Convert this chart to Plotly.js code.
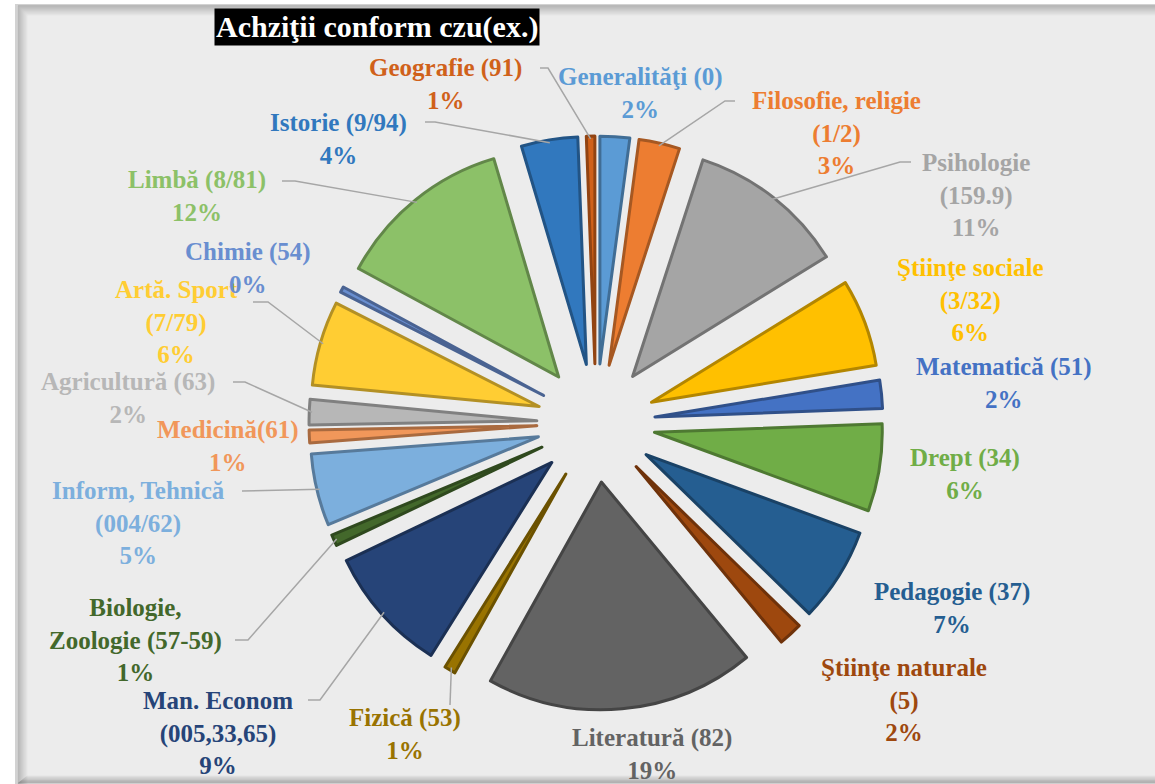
<!DOCTYPE html>
<html>
<head>
<meta charset="utf-8">
<script src="https://cdn.plot.ly/plotly-3.0.1.min.js"></script>
<style>
  html, body { margin: 0; padding: 0; background: #fff; }
  #chart { width: 1155px; height: 784px; }
</style>
</head>
<body>
<div id="chart"></div>
<script>
const W = 1155;
const H = 784;

// data, clockwise from 12 o'clock
const categories = [
  'Generalităţi (0)', 'Filosofie, religie<br>(1/2)', 'Psihologie<br>(159.9)',
  'Ştiinţe sociale<br>(3/32)', 'Matematică (51)', 'Drept (34)', 'Pedagogie (37)',
  'Ştiinţe naturale<br>(5)', 'Literatură (82)', 'Fizică (53)', 'Man. Econom<br>(005,33,65)',
  'Biologie,<br>Zoologie (57-59)', 'Inform, Tehnică<br>(004/62)', 'Medicină(61)',
  'Agricultură (63)', 'Artă. Sport<br>(7/79)', 'Chimie (54)', 'Limbă (8/81)',
  'Istorie (9/94)', 'Geografie (91)'
];
const shares = [2.1, 2.9, 11.2, 6.2, 2.0, 6.2, 6.7, 1.7, 19.1, 0.8, 9.0, 0.8, 5.1, 0.9, 1.8, 6.0, 0.4, 12.5, 4.0, 0.6];
const pctLabels = ['2%', '3%', '11%', '6%', '2%', '6%', '7%', '2%', '19%', '1%', '9%', '1%', '5%', '1%', '2%', '6%', '0%', '12%', '4%', '1%'];

const colors = [
  '#5B9BD5', '#ED7D31', '#A5A5A5', '#FFC000', '#4472C4', '#70AD47', '#255E91',
  '#9E480E', '#636363', '#997300', '#264478', '#43682B', '#7CAFDD', '#F1975A',
  '#B7B7B7', '#FFCD33', '#698ED0', '#8CC168', '#3178BE', '#D0611A'
];

// label centres (px) and leader start points (px)
const labelPos = [
  [640, 93], [836, 133], [976, 195], [970, 300], [1004, 383], [965, 474], [952, 608],
  [904, 700], [652, 754], [405, 734], [218, 733], [135, 640], [138, 523], [228, 446],
  [128, 398], [176, 322], [248, 268], [197, 196], [338, 139], [445, 84]
];
const leaders = [
  [19, [[540, 68], [548, 68]]],
  [1, [[735, 101], [725, 101]]],
  [2, [[911, 162], [900, 162]]],
  [9, [[450, 705]]],
  [10, [[308, 700], [320, 700]]],
  [11, [[235, 640], [248, 640]]],
  [12, [[242, 491]]],
  [14, [[233, 382], [245, 382]]],
  [15, [[253, 302], [268, 302]]],
  [17, [[282, 181], [295, 181]]],
  [18, [[425, 122], [435, 122]]]
];

const pull = 0.26;
const dom = { x: [309 / W, 883 / W], y: [1 - 710 / H, 1 - 136 / H] };
const labelFont = 'Liberation Serif';

const darken = (hex, f) => {
  const n = parseInt(hex.slice(1), 16);
  const r = Math.round(((n >> 16) & 255) * f);
  const g = Math.round(((n >> 8) & 255) * f);
  const b = Math.round((n & 255) * f);
  return `rgb(${r},${g},${b})`;
};

const px = (x) => x / W;
const py = (y) => 1 - y / H;

// geometry of the pie, in pixels, from the domain
const cx = (dom.x[0] + dom.x[1]) / 2 * W;
const cy = (1 - (dom.y[0] + dom.y[1]) / 2) * H;
const rTotal = Math.min((dom.x[1] - dom.x[0]) * W, (dom.y[1] - dom.y[0]) * H) / 2;
const total = shares.reduce((a, b) => a + b, 0);
const midAngle = (i) => {
  let before = 0;
  for (let k = 0; k < i; k++) before += shares[k];
  return (before + shares[i] / 2) / total * 2 * Math.PI;
};

const trace = {
  type: 'pie',
  labels: categories,
  values: shares,
  sort: false,
  direction: 'clockwise',
  rotation: 0,
  pull: shares.map(() => pull),
  textinfo: 'none',
  hoverinfo: 'label+percent',
  domain: dom,
  marker: {
    colors: colors,
    line: { color: colors.map(c => darken(c, 0.7)), width: 3 }
  },
  showlegend: false
};

const shapes = [];
// frame with inner shadow
shapes.push({ type: 'rect', xref: 'paper', yref: 'paper', layer: 'below',
  x0: px(16), x1: px(1160), y0: py(5), y1: py(790),
  fillcolor: '#ECECEC', line: { color: '#D2D2D2', width: 2 } });
for (let i = 0; i < 10; i++) {
  const a = 0.32 * (1 - i / 10);
  const col = `rgba(60,60,60,${a.toFixed(3)})`;
  shapes.push({ type: 'line', xref: 'paper', yref: 'paper', layer: 'below',
    x0: px(18 + i), x1: px(18 + i), y0: py(6 + i), y1: py(784), line: { color: col, width: 1 } });
  shapes.push({ type: 'line', xref: 'paper', yref: 'paper', layer: 'below',
    x0: px(18 + i), x1: px(1155), y0: py(6 + i), y1: py(6 + i), line: { color: col, width: 1 } });
  shapes.push({ type: 'line', xref: 'paper', yref: 'paper', layer: 'below',
    x0: px(18 + i), x1: px(1155), y0: py(783 - i * 0.8), y1: py(783 - i * 0.8), line: { color: col, width: 1 } });
}

// leader lines from the label to the slice edge (pixel axes)
leaders.forEach(([i, pts]) => {
  const a = midAngle(i);
  const end = [cx + rTotal * 0.99 * Math.sin(a), cy - rTotal * 0.99 * Math.cos(a)];
  const all = pts.concat([end]);
  let path = `M ${all[0][0]} ${all[0][1]}`;
  for (let k = 1; k < all.length; k++) path += ` L ${all[k][0]} ${all[k][1]}`;
  shapes.push({ type: 'path', xref: 'x', yref: 'y', layer: 'above',
    path: path, line: { color: '#A6A6A6', width: 1.5 } });
});

const annotations = categories.map((c, i) => ({
  xref: 'paper', yref: 'paper',
  x: px(labelPos[i][0]), y: py(labelPos[i][1]),
  xanchor: 'center', yanchor: 'middle',
  text: `<b>${c}<br>${pctLabels[i]}</b>`,
  showarrow: false, align: 'center',
  font: { family: labelFont, size: 25, color: colors[i] }
}));
annotations.push({
  xref: 'paper', yref: 'paper', x: px(377), y: py(27),
  xanchor: 'center', yanchor: 'middle', showarrow: false,
  text: '<b>Achziţii conform czu(ex.)</b>', bgcolor: '#000000', borderpad: 1,
  font: { family: labelFont, size: 30, color: '#FFFFFF' }
});

const layout = {
  width: W, height: H,
  margin: { l: 0, r: 0, t: 0, b: 0 },
  paper_bgcolor: '#FFFFFF',
  xaxis: { range: [0, W], visible: false, fixedrange: true },
  yaxis: { range: [H, 0], visible: false, fixedrange: true },
  shapes: shapes,
  annotations: annotations
};

Plotly.newPlot('chart', [trace], layout, { displayModeBar: false, staticPlot: true });
</script>
</body>
</html>
